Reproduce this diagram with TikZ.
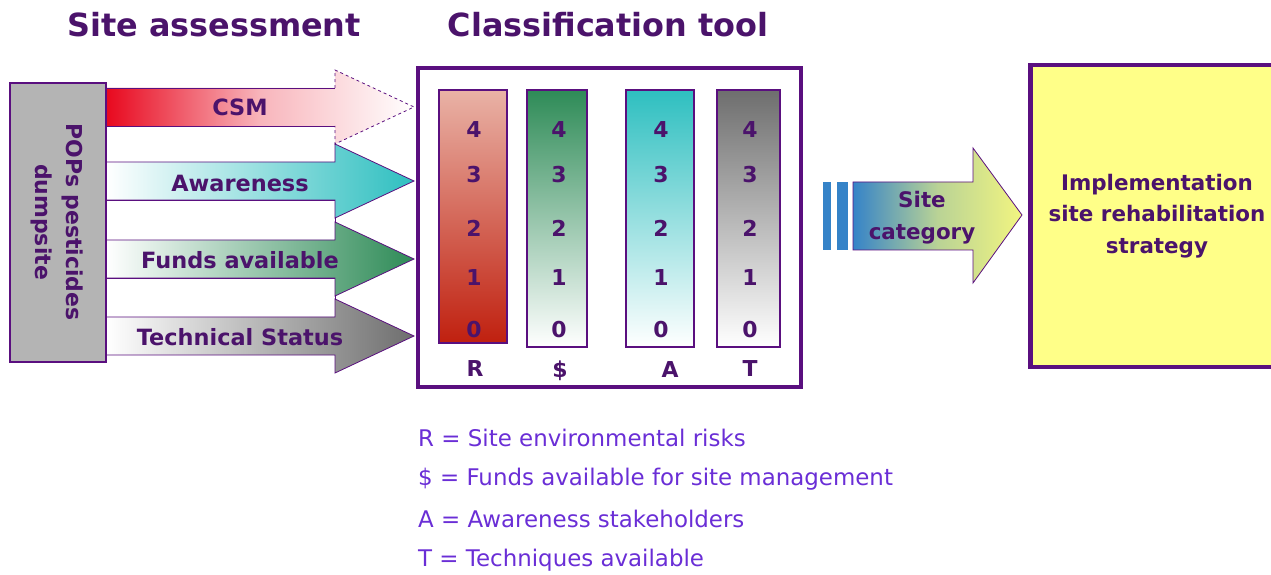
\documentclass[tikz,border=0pt]{standalone}
\usepackage{fontspec}
\setmainfont{DejaVu Sans}
\definecolor{txtP}{HTML}{4B136B}
\definecolor{bordP}{HTML}{5A0F7F}
\definecolor{legP}{HTML}{6A2ED6}
\definecolor{boxGray}{HTML}{B4B4B4}
\definecolor{cRed}{HTML}{E8081E}
\definecolor{cTeal}{HTML}{2EBFC0}
\definecolor{cGreen}{HTML}{2E8B57}
\definecolor{cGray}{HTML}{6E6E6E}
\definecolor{cRose}{HTML}{E9B2A6}
\definecolor{cBrick}{HTML}{C0200F}
\definecolor{cBlue}{HTML}{3583C8}
\definecolor{cPaleY}{HTML}{F2F580}
\definecolor{cYellow}{HTML}{FFFF88}
\begin{document}
\begin{tikzpicture}[x=1bp,y=-1bp,
  title/.style={font=\fontsize{32}{36}\selectfont\bfseries, text=txtP},
  lbl/.style={font=\fontsize{22.5}{26}\selectfont\bfseries, text=txtP},
  numlbl/.style={font=\fontsize{22}{26}\selectfont\bfseries, text=txtP},
  bigtxt/.style={font=\fontsize{21.5}{31.5}\selectfont\bfseries, text=txtP, align=center},
  legend/.style={font=\fontsize{23}{26}\selectfont, text=legP, anchor=west, inner sep=0pt},
  gapstrip/.style={fill=white, draw=bordP, line width=0.8},
  arrowshape/.style={draw=bordP, line width=0.8},
  bar/.style={draw=bordP, line width=1.5},
]
\useasboundingbox (0,0) rectangle (1271,575);
\clip (0,0) rectangle (1271,575);

% titles
\node[title] (t1) at (214,25) {Site assessment};
\node[title] (t2) at (608,25) {Classification tool};

% gap strips
\draw[gapstrip] (106,126) rectangle (335,162);
\draw[gapstrip] (106,200) rectangle (335,240);
\draw[gapstrip] (106,278) rectangle (335,317);

% CSM arrow
\shade[left color=cRed, right color=white, middle color=white!70!cRed]
  (106,88) -- (335,88) -- (335,70) -- (414,107) -- (335,144) -- (335,126) -- (106,126) -- cycle;
\draw[bordP, line width=0.8] (106,88) -- (335,88) (106,126) -- (335,126);
\draw[bordP, line width=0.8, dashed] (335,88) -- (335,70) -- (414,107) -- (335,144) -- (335,126);
\node[lbl] (csm) at (240,107) {CSM};

% Awareness arrow
\shade[left color=white, right color=cTeal, arrowshape]
  (106,162) -- (335,162) -- (335,144) -- (414,181) -- (335,218) -- (335,200) -- (106,200) -- cycle;
\node[lbl] (aw) at (240,183) {Awareness};

% Funds arrow
\shade[left color=white, right color=cGreen, arrowshape]
  (106,240) -- (335,240) -- (335,222) -- (414,259) -- (335,296) -- (335,278) -- (106,278) -- cycle;
\node[lbl] (fu) at (240,260) {Funds available};

% Technical arrow
\shade[left color=white, right color=cGray, arrowshape]
  (106,317) -- (335,317) -- (335,299) -- (414,336) -- (335,373) -- (335,355) -- (106,355) -- cycle;
\node[lbl] (te) at (240,337) {Technical Status};

% left gray box
\draw[fill=boxGray, draw=bordP, line width=1.5] (10,83) rectangle (106,362);
\node[bigtxt, font=\fontsize{22}{32}\selectfont\bfseries, rotate=-90] (pops) at (57,222) {POPs pesticides\\dumpsite};

% classification box
\draw[bordP, line width=5] (418,68) rectangle (801,387);

% bars
\shade[top color=cRose, bottom color=cBrick, bar] (439,90) rectangle (507,343);
\shade[top color=cGreen, bottom color=white, bar] (527,90) rectangle (587,347);
\shade[top color=cTeal, bottom color=white, bar] (626,90) rectangle (694,347);
\shade[top color=cGray, bottom color=white, bar] (717,90) rectangle (780,347);

\foreach \b/\x in {R/474,D/559,A/661,T/750}{
  \foreach \n/\y in {4/130,3/175,2/228,1/278,0/330}{
    \node[numlbl] (n-\b-\n) at (\x,\y) {\n};
  }
}
\node[numlbl] (lR) at (475,369) {R};
\node[numlbl] (lD) at (560,371) {\$};
\node[numlbl] (lA) at (670,370) {A};
\node[numlbl] (lT) at (750,369) {T};

% site category arrow
\fill[cBlue] (823,182) rectangle (831,250);
\fill[cBlue] (837,182) rectangle (848,250);
\shade[left color=cBlue, right color=cPaleY, middle color=cPaleY!70!cBlue, arrowshape]
  (853,182) -- (973,182) -- (973,148) -- (1022,215) -- (973,283) -- (973,250) -- (853,250) -- cycle;
\node[bigtxt, font=\fontsize{21.5}{32}\selectfont\bfseries] (sc) at (922,218) {Site\\category};

% yellow box
\draw[fill=cYellow, draw=bordP, line width=5] (1030,65) rectangle (1295,367);
\node[bigtxt] (impl) at (1157,216) {Implementation\\site rehabilitation\\strategy};

% legend
\node[legend] (lg1) at (418,438) {R = Site environmental risks};
\node[legend] (lg2) at (418,479) {\$ = Funds available for site management};
\node[legend] (lg3) at (418,519) {A = Awareness stakeholders};
\node[legend] (lg4) at (418,560) {T = Techniques available};
\end{tikzpicture}
\end{document}
